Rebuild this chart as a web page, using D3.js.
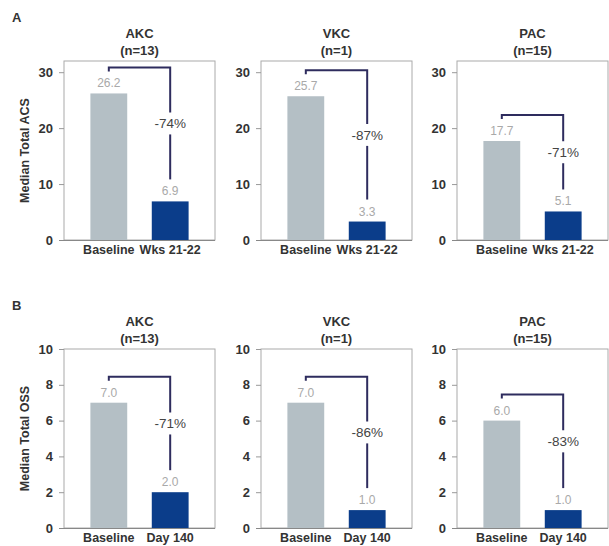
<!DOCTYPE html>
<html><head><meta charset="utf-8">
<script src="https://cdn.jsdelivr.net/npm/d3@7"></script>
<style>body{margin:0;background:#fff}svg{display:block;font-family:"Liberation Sans",Arial,sans-serif}</style>
</head><body>
<script>
const groups = ["AKC", "VKC", "PAC"];
const nLabels = ["(n=13)", "(n=1)", "(n=15)"];
const acsCats = ["Baseline", "Wks 21-22"];
const acsBaseline = [26.2, 25.7, 17.7];
const acsAfter = [6.9, 3.3, 5.1];
const acsChange = ["-74%", "-87%", "-71%"];
const acsTicks = [0, 10, 20, 30];
const ossCats = ["Baseline", "Day 140"];
const ossBaseline = [7.0, 7.0, 6.0];
const ossAfter = [2.0, 1.0, 1.0];
const ossChange = ["-71%", "-86%", "-83%"];
const ossTicks = [0, 2, 4, 6, 8, 10];

const W = 609, H = 546;
const svg = d3.select("body").append("svg").attr("width", W).attr("height", H);

const panelX = [64, 261, 457], panelW = 151, panelH = 179;
const colors = ["#b4bfc5", "#0b3d8a"];
const rows = [
  {letter: "A", top: 61, cats: acsCats, base: acsBaseline, after: acsAfter, change: acsChange, ticks: acsTicks, max: 32, ylabel: "Median Total ACS"},
  {letter: "B", top: 349, cats: ossCats, base: ossBaseline, after: ossAfter, change: ossChange, ticks: ossTicks, max: 10, ylabel: "Median Total OSS"}
];

rows.forEach(r => {
  svg.append("text").attr("x", 12).attr("y", r.top - 39).attr("font-size", 13).attr("font-weight", "bold")
    .attr("fill", "#333").text(r.letter);
  svg.append("text").attr("transform", `translate(29,${r.top + panelH / 2}) rotate(-90)`)
    .attr("text-anchor", "middle").attr("font-size", 12.5).attr("font-weight", "bold").attr("fill", "#333").text(r.ylabel);

  groups.forEach((g, i) => {
    const gx = panelX[i];
    const p = svg.append("g").attr("transform", `translate(${gx},${r.top})`);
    const y = d3.scaleLinear().domain([0, r.max]).range([panelH, 0]);
    const x = d3.scaleBand().domain(r.cats).range([0, panelW]).paddingInner(0.4).paddingOuter(0.43);
    const vals = [r.base[i], r.after[i]];

    p.append("rect").attr("x", 0).attr("y", 0).attr("width", panelW).attr("height", panelH)
      .attr("fill", "none").attr("stroke", "#aaa").attr("stroke-width", 1);

    p.append("text").attr("x", panelW / 2).attr("y", -23).attr("text-anchor", "middle")
      .attr("font-size", 13).attr("font-weight", "bold").attr("fill", "#333").text(g);
    p.append("text").attr("x", panelW / 2).attr("y", -6).attr("text-anchor", "middle")
      .attr("font-size", 13).attr("font-weight", "bold").attr("fill", "#333").text(nLabels[i]);

    const ya = p.append("g").call(d3.axisLeft(y).tickValues(r.ticks).tickSize(5).tickPadding(6));
    ya.select(".domain").remove();
    ya.selectAll(".tick line").attr("stroke", "#999");
    ya.selectAll(".tick text").attr("font-size", 13).attr("font-weight", "bold").attr("fill", "#333")
      .attr("font-family", "Liberation Sans, Arial, sans-serif");

    const xa = p.append("g").attr("transform", `translate(0,${panelH})`).call(d3.axisBottom(x).tickSize(0).tickPadding(5));
    xa.select(".domain").attr("stroke", "#888").attr("d", `M-5,0.5H${panelW}`);
    xa.selectAll(".tick text").attr("font-size", 12.5).attr("font-weight", "bold").attr("fill", "#333")
      .attr("font-family", "Liberation Sans, Arial, sans-serif");

    p.selectAll("rect.bar").data(vals).join("rect").attr("class", "bar")
      .attr("x", (d, j) => x(r.cats[j])).attr("width", x.bandwidth())
      .attr("y", d => y(d)).attr("height", d => panelH - y(d))
      .attr("fill", (d, j) => colors[j]);

    p.selectAll("text.val").data(vals).join("text").attr("class", "val")
      .attr("x", (d, j) => x(r.cats[j]) + x.bandwidth() / 2).attr("y", d => y(d) - 6)
      .attr("text-anchor", "middle").attr("font-size", 12).attr("fill", "#a9a9a9")
      .text(d => d.toFixed(1));

    const x1 = x(r.cats[0]) + x.bandwidth() / 2, x2 = x(r.cats[1]) + x.bandwidth() / 2;
    const topY = y(vals[0]) - 26, botY = y(vals[1]) - 22, mid = (topY + botY) / 2;
    const stroke = "#2e2c5e";
    p.append("path").attr("d", `M${x1},${topY + 4}V${topY}H${x2}V${mid - 11}`)
      .attr("fill", "none").attr("stroke", stroke).attr("stroke-width", 2);
    p.append("path").attr("d", `M${x2},${mid + 11}V${botY}`)
      .attr("fill", "none").attr("stroke", stroke).attr("stroke-width", 2);
    p.append("text").attr("x", x2).attr("y", mid + 5).attr("text-anchor", "middle")
      .attr("font-size", 13.5).attr("fill", "#444").text(r.change[i]);
  });
});
</script>
</body></html>
